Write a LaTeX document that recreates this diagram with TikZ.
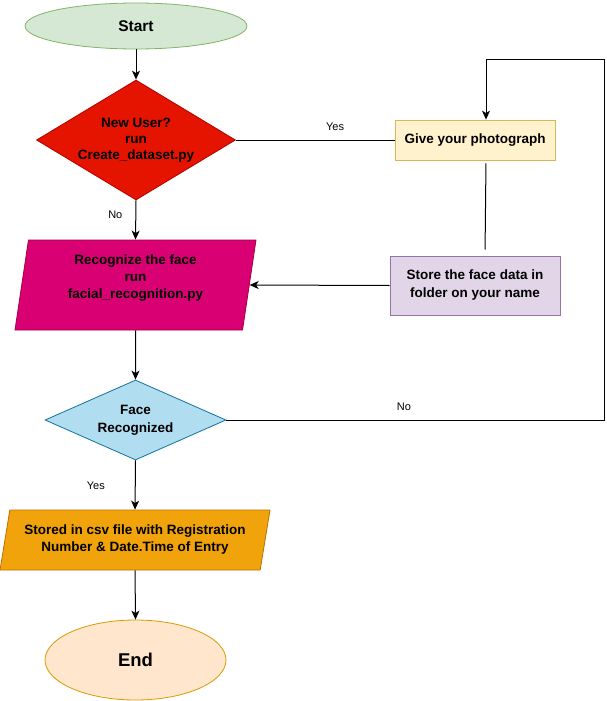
\documentclass[tikz,border=0pt]{standalone}
\usepackage{fontspec}
\setmainfont{Liberation Sans}
\usetikzlibrary{shapes.geometric,arrows.meta}

\definecolor{startfill}{HTML}{D5E8D4}\definecolor{startline}{HTML}{82B366}
\definecolor{redfill}{HTML}{E51400}\definecolor{redline}{HTML}{B20000}
\definecolor{photofill}{HTML}{FFF2CC}\definecolor{photoline}{HTML}{D6B656}
\definecolor{storefill}{HTML}{E1D5E7}\definecolor{storeline}{HTML}{9673A6}
\definecolor{magfill}{HTML}{D80073}\definecolor{magline}{HTML}{A50040}
\definecolor{bluefill}{HTML}{B1DDF0}\definecolor{blueline}{HTML}{10739E}
\definecolor{orangefill}{HTML}{F0A30A}\definecolor{orangeline}{HTML}{BD7000}
\definecolor{endfill}{HTML}{FFE6CC}\definecolor{endline}{HTML}{D79B00}

\begin{document}
\begin{tikzpicture}[x=1pt,y=-1pt,
  every node/.style={align=center, text=black},
  boxtext/.style={font=\fontsize{13.5}{17}\selectfont\bfseries},
  lbl/.style={font=\fontsize{11}{13}\selectfont, inner sep=1pt},
  terminal/.style={ellipse, draw, line width=0.8pt, inner sep=0pt},
  decision/.style={diamond, draw, line width=0.8pt, inner sep=0pt, boxtext},
  procbox/.style={rectangle, draw, line width=0.8pt, inner sep=0pt, boxtext},
  iobox/.style={trapezium, trapezium stretches body=true, draw, line width=0.8pt, inner sep=0pt, boxtext},
  conn/.style={line width=1pt, black},
  arr/.style={conn, -{Stealth[length=9pt,width=8pt,inset=2.5pt]}}
]
\useasboundingbox (0,0) rectangle (607,701);

% shapes
\node[terminal, fill=startfill, draw=startline, minimum width=222pt, minimum height=46pt,
      font=\fontsize{15.5}{18}\selectfont\bfseries] (start) at (136,26) {Start};
\node[decision, fill=redfill, draw=redline, aspect=1.66, minimum width=199pt, minimum height=120pt,
      font=\fontsize{13.5}{16}\selectfont\bfseries]
      (newuser) at (136,140) {New User?\\run\\Create\_dataset.py};
\node[procbox, fill=photofill, draw=photoline, minimum width=160pt, minimum height=40pt]
      (photo) at (475,140) {Give your photograph};
\node[procbox, fill=storefill, draw=storeline, minimum width=170pt, minimum height=59pt,
      font=\fontsize{13.5}{18}\selectfont\bfseries]
      (store) at (475,285.5) {Store the face data in\\folder on your name};
\node[iobox, fill=magfill, draw=magline, trapezium left angle=77.5, trapezium right angle=102.5,
      minimum width=241pt, minimum height=90pt, text depth=17pt]
      (recog) at (135.5,285) {Recognize the face\\run\\facial\_recognition.py};
\node[decision, fill=bluefill, draw=blueline, aspect=2.26, minimum width=181pt, minimum height=80pt,
      font=\fontsize{13.5}{18}\selectfont\bfseries]
      (face) at (135.5,420) {Face\\Recognized};
\node[iobox, fill=orangefill, draw=orangeline, trapezium left angle=71.6, trapezium right angle=108.4,
      minimum width=270pt, minimum height=60pt]
      (csv) at (135,540) {Stored in csv file with Registration\\Number \& Date.Time of Entry};
\node[terminal, fill=endfill, draw=endline, minimum width=181pt, minimum height=80pt,
      font=\fontsize{18.5}{22}\selectfont\bfseries] (end) at (135.5,660) {End};

% loop-back corners
\coordinate (loopA) at (604,420);
\coordinate (loopB) at (486,60);

% connectors
\draw[arr] (start) -- (newuser);
\draw[conn] (newuser.east) -- node[lbl, pos=0.625, above=8pt] {Yes} (photo.west);
\draw[conn, shorten <=3pt, shorten >=6pt] ([xshift=11pt]photo.south) -- ([xshift=10pt]store.north);
\draw[arr] (store.west) -- (recog.east);
\draw[arr] (newuser.south) -- node[lbl, pos=0.375, left=12pt] {No} (recog.north);
\draw[arr] (recog.south) -- (face.north);
\draw[arr] (face.east) -- node[lbl, pos=0.47, above=8pt] {No} (loopA) |- (loopB) -- ([xshift=11pt]photo.north);
\draw[arr] (face.south) -- node[lbl, pos=0.52, left=29pt] {Yes} (csv.north);
\draw[arr] (csv.south) -- (end.north);
\end{tikzpicture}
\end{document}
